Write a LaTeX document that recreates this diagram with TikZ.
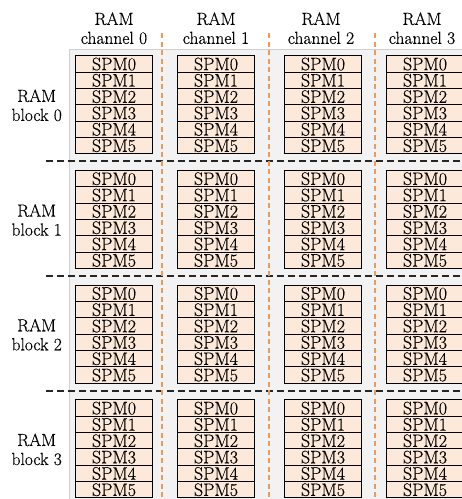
\documentclass[tikz,border=0pt]{standalone}
\usepackage{fontspec}
\setmainfont{Latin Modern Roman}
\newfontfamily\heavyrm[FakeBold=0.4]{Latin Modern Roman}
\begin{document}
\begin{tikzpicture}[x=1pt,y=-1pt,
  spmbox/.style={draw=black, line width=1pt, fill=peach, minimum width=77pt,
    minimum height=16.33pt, inner sep=0pt, text height=12.4pt, text depth=0pt,
    anchor=north west, font=\heavyrm\fontsize{18}{19}\selectfont},
  hdr/.style={align=center, inner sep=0pt, anchor=north, font=\heavyrm\fontsize{17.5}{19}\selectfont},
  sepline/.style={draw=black!85, line width=1.2pt, dash pattern=on 7pt off 4pt},
  chanline/.style={draw=chanorange, line width=1.3pt, dash pattern=on 5pt off 3.5pt}]
\definecolor{peach}{RGB}{253,233,217}
\definecolor{chanorange}{RGB}{238,155,90}
\definecolor{bggray}{RGB}{242,242,242}
\definecolor{bgborder}{RGB}{208,208,208}
\useasboundingbox (0,0) rectangle (462,499);
% background panel
\fill[bggray] (69.5,49.5) rectangle (470,505);
\draw[bgborder, line width=1.5pt] (69.5,505) -- (69.5,49.5) -- (470,49.5);
% block separators
\foreach \yy in {161,276,391}
  \draw[sepline] (46,\yy) -- (462,\yy);
% channel separators
\foreach \xx in {162,269,375}
  \draw[chanline] (\xx,33) -- (\xx,499);
% headers
\foreach \c/\cx in {0/114,1/216,2/321,3/422}
  \node[hdr] (ch\c) at (\cx,12.3) {RAM\\channel \c};
\foreach \b in {0,1,2,3}
  \node[hdr] (bl\b) at (36.7,55.3+114.7*\b+34.0) {RAM\\block \b};
% SPM boxes
\foreach \c/\lx in {0/75,1/177,2/284,3/386}
  \foreach \b in {0,1,2,3}
    \foreach \r in {0,...,5}
      \node[spmbox] (s\c\b\r) at (\lx,55.3+114.7*\b+16.33*\r) {SPM\r};
\end{tikzpicture}
\end{document}
